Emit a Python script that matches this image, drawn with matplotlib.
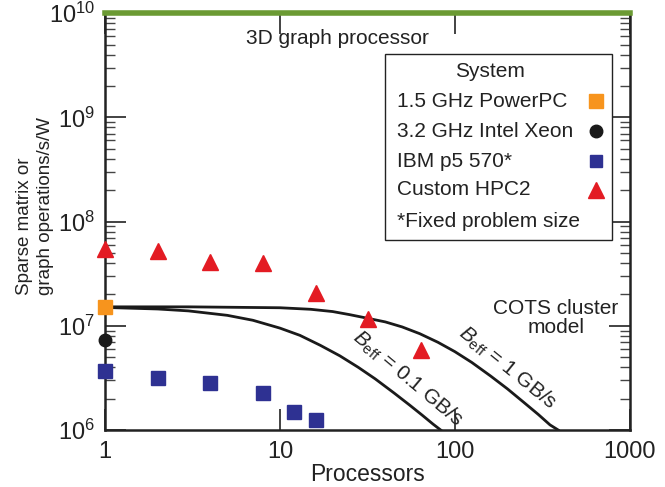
"""Sparse matrix / graph operations per watt vs processor count."""
import math

import matplotlib

matplotlib.use("Agg")
import matplotlib.pyplot as plt
from matplotlib.patches import Rectangle
from matplotlib.ticker import FixedLocator, FuncFormatter, LogLocator, NullLocator

plt.rcParams["font.family"] = ["Liberation Sans", "DejaVu Sans"]
plt.rcParams["mathtext.fontset"] = "custom"
plt.rcParams["mathtext.rm"] = "Liberation Sans"
plt.rcParams["mathtext.it"] = "Liberation Sans:italic"

# measured systems
powerpc_x = [1]
powerpc_y = [1.5e7]
xeon_x = [1]
xeon_y = [7.3e6]
ibm_x = [1, 2, 4, 8, 12, 16]
ibm_y = [3.7e6, 3.15e6, 2.8e6, 2.25e6, 1.5e6, 1.25e6]
hpc2_x = [1, 2, 4, 8, 16, 32, 64]
hpc2_y = [5.5e7, 5.2e7, 4.1e7, 4.0e7, 2.05e7, 1.17e7, 5.8e6]

# COTS cluster model curves
model_01_x = [1, 2, 3, 5, 7, 10, 13, 17, 22, 28, 35, 45, 55, 65, 75, 83]
model_01_y = [1.5e7, 1.45e7, 1.39e7, 1.26e7, 1.13e7, 9.5e6, 8.1e6, 6.5e6, 5.15e6,
              4.0e6, 3.1e6, 2.26e6, 1.74e6, 1.39e6, 1.14e6, 1.0e6]
model_1_x = [1, 3, 10, 15, 20, 25, 31, 40, 50, 63, 80, 100, 125, 160, 200, 250, 300, 350, 390]
model_1_y = [1.52e7, 1.52e7, 1.49e7, 1.44e7, 1.37e7, 1.28e7, 1.19e7, 1.09e7, 9.75e6, 8.4e6,
             6.95e6, 5.65e6, 4.45e6, 3.3e6, 2.48e6, 1.82e6, 1.41e6, 1.12e6, 1.0e6]

graph_proc_y = 1e10

legend_title = "System"
legend_labels = ["1.5 GHz PowerPC", "3.2 GHz Intel Xeon", "IBM p5 570*", "Custom HPC2",
                 "*Fixed problem size"]

ink = "#222222"

fig = plt.figure(figsize=(6.65, 4.87), dpi=100)
ax = fig.add_axes([0.158, 0.117, 0.789, 0.856])
ax.set_xscale("log")
ax.set_yscale("log")
ax.set_xlim(1, 1000)
ax.set_ylim(1e6, 1e10)

ax.plot(model_01_x, model_01_y, color="#1a1a1a", lw=2.0, zorder=2)
ax.plot(model_1_x, model_1_y, color="#1a1a1a", lw=2.0, zorder=2)
ax.axhline(graph_proc_y, color="#6b9a33", lw=4, clip_on=False, zorder=5)

ax.plot(powerpc_x, powerpc_y, "s", color="#f7941d", ms=10, clip_on=False, zorder=6)
ax.plot(xeon_x, xeon_y, "o", color="#1a1a1a", ms=9, clip_on=False, zorder=6)
ax.plot(ibm_x, ibm_y, "s", color="#2e3192", ms=9.5, clip_on=False, zorder=6)
ax.plot(hpc2_x, hpc2_y, "^", color="#e31b23", ms=11, clip_on=False, zorder=6)

ax.text(21.4, 5.75e9, "3D graph processor", ha="center", va="center", fontsize=15, color=ink)
ax.text(378, 1.19e7, "COTS cluster\nmodel", ha="center", va="center", fontsize=15,
        color=ink, linespacing=1.05)
ax.text(54, 3.1e6, r"$B_{\mathrm{eff}}$ = 0.1 GB/s", rotation=-40, ha="center", va="center",
        fontsize=15, color=ink, rotation_mode="anchor")
ax.text(200, 3.9e6, r"$B_{\mathrm{eff}}$ = 1 GB/s", rotation=-39, ha="center", va="center",
        fontsize=15, color=ink, rotation_mode="anchor")

# legend box drawn by hand so labels stay left aligned with markers on the right
tr = ax.transAxes
ax.add_patch(Rectangle((0.533, 0.456), 0.433, 0.446, transform=tr, facecolor="white",
                       edgecolor=ink, lw=1.0, zorder=7))
ax.text(0.733, 0.861, legend_title, transform=tr, ha="center", va="center", fontsize=15,
        color=ink, zorder=8)
rows = [0.789, 0.717, 0.645, 0.576, 0.501]
for yy, lab in zip(rows, legend_labels):
    ax.text(0.556, yy, lab, transform=tr, ha="left", va="center", fontsize=15, color=ink, zorder=8)
legend_marks = [("s", "#f7941d", 9.5), ("o", "#1a1a1a", 9), ("s", "#2e3192", 9), ("^", "#e31b23", 12)]
for yy, (m, c, s) in zip(rows, legend_marks):
    ax.plot([0.935], [yy], m, color=c, ms=s, transform=tr, clip_on=False, zorder=8)

for side in ax.spines.values():
    side.set_linewidth(1.8)
    side.set_color(ink)

ax.xaxis.set_major_locator(FixedLocator([1, 10, 100, 1000]))
ax.xaxis.set_minor_locator(NullLocator())
ax.yaxis.set_major_locator(LogLocator(base=10, numticks=10))
ax.yaxis.set_minor_locator(LogLocator(base=10, subs=range(2, 10), numticks=10))

ax.xaxis.set_major_formatter(FuncFormatter(lambda v, p: f"{v:g}"))
ax.yaxis.set_major_formatter(FuncFormatter(
    lambda v, p: r"$\mathregular{10^{%d}}$" % round(math.log10(v))))

ax.tick_params(axis="both", which="major", direction="in", length=15, width=1.2,
               labelsize=17, colors=ink, pad=7, top=True, right=True)
ax.tick_params(axis="y", which="minor", direction="in", length=7, width=1.0,
               colors="#444444", right=True)
ax.tick_params(axis="x", which="major", pad=8)

ax.set_xlabel("Processors", fontsize=16.5, color=ink, labelpad=0)
ax.set_ylabel("Sparse matrix or\ngraph operations/s/W", fontsize=13.5, color=ink,
              linespacing=1.35, multialignment="left")
ax.yaxis.set_label_coords(-0.097, 0.537)

fig.savefig("out.png", dpi=100)
